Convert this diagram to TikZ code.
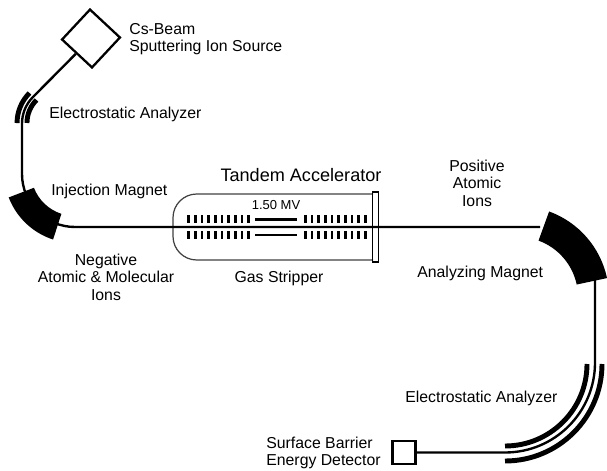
\documentclass[tikz,border=0pt]{standalone}
\usepackage{fontspec}
\setmainfont{Liberation Sans}
\usetikzlibrary{shapes.geometric}

\tikzset{
	txt/.style = {inner sep=0pt, font=\fontsize{9}{10}\selectfont, align=left},
	beam/.style = {line width=1.35pt},
	plate/.style = {line width=2.8pt},
	rod/.style = {line width=1.5pt},
	bar/.style = {line width=1.5pt},
}

\begin{document}
\begin{tikzpicture}[x=0.02cm, y=0.02cm]

	\useasboundingbox (0,0) rectangle (607,470);
	\clip (0,0) rectangle (607,470);

	% magnets
	\fill (75,298) ++(201:44) arc (201:252:44) -- ++(252:27) arc (252:201:71) -- cycle;
	\fill (518,173) ++(70:60) arc (70:12:60) -- ++(12:31) arc (12:70:91) -- cycle;

	% tank
	\draw[draw=black!75, line width=0.7pt, rounded corners=13.5pt] (373,276) -- (173,276) -- (173,210) -- (373,210);

	% beam line
	\node[draw, diamond, rotate=2, aspect=1, line width=1.3pt, minimum size=33.5pt, inner sep=0pt] (source) at (91,431.5) {};
	\node[draw, line width=1.5pt, minimum size=13pt, inner sep=0pt] (detector) at (404,17.5) {};
	\draw[beam] (source) -- (33,373) arc (135:180:37.5) -- (22,296) arc (180:270:53) -- (540,243) ;
	\draw[beam] (595,192) -- (595,107.5) arc (0:-90:90) -- (detector);

	\node[draw, line width=0.8pt, minimum width=3.2pt, minimum height=39.7pt, inner sep=0pt] (cap) at (375.5,243) {};

	% electrodes
	\foreach \i in {0,...,9} {
		\draw[bar] ({188.6+6.67*\i},255) -- ++(0,-7.7);
		\draw[bar] ({188.6+6.67*\i},239) -- ++(0,-8.3);
		\draw[bar] ({305.3+6.67*\i},255) -- ++(0,-7.7);
		\draw[bar] ({305.3+6.67*\i},239) -- ++(0,-8.3);
	}
	\draw[rod] (255,250.7) -- (297,250.7);
	\draw[rod] (255,235) -- (297,235);

	% analyzers
	\draw[plate] (29.5,377) arc (135:180:42.5);
	\draw[plate] (36.5,370) arc (135:180:32.5);
	\draw[plate] (602,106) arc (0:-90:97);
	\draw[plate] (587,106) arc (0:-90:82);

	% labels
	\node[txt, anchor=west] (source-txt) at (129,431) {Cs-Beam\\Sputtering Ion Source};
	\node[txt, anchor=west] (esa-a-txt) at (49,356) {Electrostatic Analyzer};
	\node[txt, anchor=west] (inj-txt) at (51,279) {Injection Magnet};
	\node[inner sep=0pt, font=\fontsize{10.3}{12}\selectfont] (tandem-txt) at (301,295) {Tandem Accelerator};
	\node[inner sep=0pt, font=\fontsize{7.4}{8}\selectfont] (mv-txt) at (276,265) {1.50 MV};
	\node[txt, align=center] (neg-txt) at (106,193) {Negative\\Atomic \& Molecular\\Ions};
	\node[txt] (strip-txt) at (279,192) {Gas Stripper};
	\node[txt, align=center] (pos-txt) at (477,287) {Positive\\Atomic\\Ions};
	\node[txt, anchor=west] (ana-txt) at (417,197) {Analyzing Magnet};
	\node[txt, anchor=west] (esa-b-txt) at (405,72) {Electrostatic Analyzer};
	\node[txt, anchor=west] (det-txt) at (266,17) {Surface Barrier\\Energy Detector};

\end{tikzpicture}
\end{document}
